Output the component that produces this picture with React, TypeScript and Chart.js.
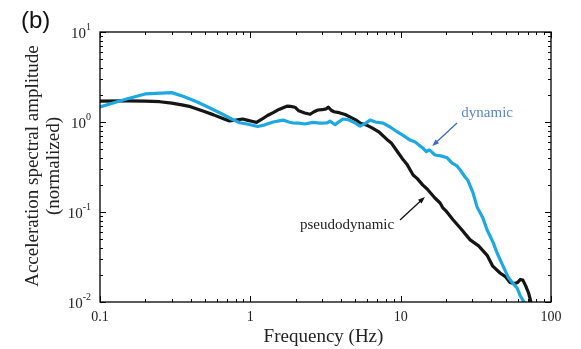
import React, { useEffect, useRef } from "react";
import { Chart, registerables } from "chart.js";

Chart.register(...registerables);

// ---- data (frequency in Hz, normalized amplitude) ----
const pseudoFreq = [0.1, 0.15, 0.2, 0.25, 0.3, 0.35, 0.4, 0.5, 0.57, 0.65, 0.72, 0.8, 0.89, 0.95, 1.02, 1.1, 1.2, 1.3, 1.42, 1.55, 1.75, 1.85, 1.98, 2.1, 2.3, 2.5, 2.65, 2.82, 3.0, 3.2, 3.3, 3.45, 3.6, 3.9, 4.27, 4.7, 5.1, 5.4, 5.9, 6.45, 7.2, 8.1, 8.7, 9.5, 10.4, 11.0, 12.1, 12.9, 14.0, 15.0, 16.9, 18.3, 19.1, 20, 22.3, 25, 29, 33, 37.6, 41, 45.8, 50, 53.4, 57, 60, 62.5, 65, 68, 71, 73, 75];
const pseudoAmp = [1.71, 1.72, 1.71, 1.68, 1.62, 1.55, 1.48, 1.3, 1.2, 1.1, 1.03, 1.05, 1.08, 1.05, 1.02, 0.99, 1.08, 1.18, 1.27, 1.38, 1.5, 1.49, 1.46, 1.33, 1.26, 1.22, 1.3, 1.36, 1.37, 1.4, 1.46, 1.35, 1.3, 1.27, 1.21, 1.12, 1.04, 0.97, 0.93, 0.86, 0.77, 0.64, 0.58, 0.47, 0.38, 0.34, 0.258, 0.235, 0.2, 0.18, 0.143, 0.126, 0.111, 0.103, 0.082, 0.066, 0.049, 0.042, 0.033, 0.025, 0.021, 0.019, 0.0165, 0.016, 0.0165, 0.0178, 0.0175, 0.015, 0.0125, 0.0105, 0.0085];

const dynFreq = [0.1, 0.15, 0.2, 0.3, 0.36, 0.44, 0.53, 0.63, 0.75, 0.85, 0.95, 1.12, 1.25, 1.42, 1.55, 1.65, 1.8, 1.92, 2.1, 2.3, 2.6, 2.9, 3.24, 3.4, 3.66, 3.9, 4.14, 4.5, 5.0, 5.37, 5.8, 6.26, 6.8, 7.64, 8.5, 9.46, 10.5, 11.55, 12.5, 13.3, 14.1, 14.8, 15.5, 16.2, 16.9, 18.5, 20.4, 22, 23.7, 25, 26.8, 28, 30.3, 32.2, 35.3, 37.6, 41.2, 43.8, 47, 51.8, 56, 59.5, 62.3, 67.3];
const dynAmp = [1.47, 1.8, 2.05, 2.12, 1.92, 1.68, 1.45, 1.26, 1.08, 0.98, 0.95, 0.89, 0.93, 1.0, 1.03, 1.05, 1.0, 0.975, 0.97, 0.95, 0.99, 0.97, 0.98, 1.02, 0.93, 1.01, 1.08, 1.06, 0.97, 0.9, 0.96, 1.05, 1.0, 0.97, 0.88, 0.78, 0.7, 0.63, 0.6, 0.55, 0.51, 0.47, 0.49, 0.46, 0.43, 0.42, 0.4, 0.35, 0.325, 0.29, 0.245, 0.225, 0.163, 0.114, 0.085, 0.063, 0.046, 0.035, 0.027, 0.019, 0.016, 0.0143, 0.0118, 0.0095];

const xTickValues = [0.1, 1, 10, 100];
const xTickLabels = ["0.1", "1", "10", "100"];
const yTickValues = [0.01, 0.1, 1, 10];
const yTickExponents = ["-2", "-1", "0", "1"];

const SERIF = '"Liberation Serif", "Times New Roman", serif';

function drawArrow(ctx: CanvasRenderingContext2D, x1: number, y1: number, x2: number, y2: number, color: string) {
  const ang = Math.atan2(y2 - y1, x2 - x1);
  const hl = 7, hw = 2.6;
  ctx.strokeStyle = color;
  ctx.fillStyle = color;
  ctx.lineWidth = 1.3;
  ctx.beginPath();
  ctx.moveTo(x1, y1);
  ctx.lineTo(x2 - Math.cos(ang) * hl * 0.8, y2 - Math.sin(ang) * hl * 0.8);
  ctx.stroke();
  ctx.beginPath();
  ctx.moveTo(x2, y2);
  ctx.lineTo(x2 - Math.cos(ang) * hl - Math.sin(ang) * hw, y2 - Math.sin(ang) * hl + Math.cos(ang) * hw);
  ctx.lineTo(x2 - Math.cos(ang) * hl + Math.sin(ang) * hw, y2 - Math.sin(ang) * hl - Math.cos(ang) * hw);
  ctx.closePath();
  ctx.fill();
}

const framePlugin = {
  id: "frame",
  afterDatasetsDraw(chart: any) {
    const ctx: CanvasRenderingContext2D = chart.ctx;
    const a = chart.chartArea;
    const xs = chart.scales.x;
    const ys = chart.scales.y;
    ctx.save();
    ctx.strokeStyle = "#000";
    ctx.lineWidth = 1.3;
    ctx.strokeRect(a.left, a.top, a.right - a.left, a.bottom - a.top);

    ctx.lineWidth = 1;
    // x ticks
    for (let e = -1; e <= 2; e++) {
      for (let m = 1; m <= 9; m++) {
        if (e === 2 && m > 1) break;
        const v = m * Math.pow(10, e);
        const px = Math.round(xs.getPixelForValue(v)) + 0.5;
        const len = m === 1 ? 6 : 3;
        ctx.beginPath();
        ctx.moveTo(px, a.bottom);
        ctx.lineTo(px, a.bottom - len);
        ctx.moveTo(px, a.top);
        ctx.lineTo(px, a.top + len);
        ctx.stroke();
      }
    }
    // y ticks
    for (let e = -2; e <= 1; e++) {
      for (let m = 1; m <= 9; m++) {
        if (e === 1 && m > 1) break;
        const v = m * Math.pow(10, e);
        const py = Math.round(ys.getPixelForValue(v)) + 0.5;
        const len = m === 1 ? 6 : 3;
        ctx.beginPath();
        ctx.moveTo(a.left, py);
        ctx.lineTo(a.left + len, py);
        ctx.moveTo(a.right, py);
        ctx.lineTo(a.right - len, py);
        ctx.stroke();
      }
    }

    // x tick labels
    ctx.fillStyle = "#222";
    ctx.font = `14px ${SERIF}`;
    ctx.textAlign = "center";
    ctx.textBaseline = "alphabetic";
    xTickValues.forEach((v, i) => {
      ctx.fillText(xTickLabels[i], xs.getPixelForValue(v), a.bottom + 19);
    });

    // y tick labels 10^n
    yTickValues.forEach((v, i) => {
      const py = ys.getPixelForValue(v);
      ctx.font = `10px ${SERIF}`;
      ctx.textAlign = "left";
      const supW = ctx.measureText(yTickExponents[i]).width;
      const right = a.left - 9;
      ctx.textBaseline = "alphabetic";
      ctx.fillText(yTickExponents[i], right - supW, py - 2);
      ctx.font = `15px ${SERIF}`;
      ctx.textAlign = "right";
      ctx.fillText("10", right - supW, py + 6);
    });

    // axis titles
    ctx.fillStyle = "#222";
    ctx.font = `19px ${SERIF}`;
    ctx.textAlign = "center";
    ctx.textBaseline = "alphabetic";
    ctx.fillText("Frequency (Hz)", (a.left + a.right) / 2 - 2, a.bottom + 40);

    ctx.save();
    ctx.translate(0, (a.top + a.bottom) / 2 - 1);
    ctx.rotate(-Math.PI / 2);
    ctx.fillText("Acceleration spectral amplitude", 0, 38);
    ctx.fillText("(normalized)", 0, 59);
    ctx.restore();

    // panel label
    ctx.font = `24px "Liberation Sans", Arial, sans-serif`;
    ctx.textAlign = "left";
    ctx.fillStyle = "#111";
    ctx.fillText("(b)", 21, 28);

    // annotations
    ctx.font = `15px ${SERIF}`;
    ctx.textAlign = "center";
    ctx.textBaseline = "middle";
    ctx.fillStyle = "#5a86c6";
    ctx.fillText("dynamic", xs.getPixelForValue(37.6), ys.getPixelForValue(1.26));
    drawArrow(ctx, xs.getPixelForValue(23.7), ys.getPixelForValue(0.975), xs.getPixelForValue(16.2), ys.getPixelForValue(0.54), "#3f6db5");

    ctx.fillStyle = "#222";
    ctx.fillText("pseudodynamic", xs.getPixelForValue(4.4), ys.getPixelForValue(0.0718));
    drawArrow(ctx, xs.getPixelForValue(9.9), ys.getPixelForValue(0.0815), xs.getPixelForValue(14.5), ys.getPixelForValue(0.147), "#111");

    ctx.restore();
  },
};

export default function App() {
  const ref = useRef<HTMLCanvasElement | null>(null);
  useEffect(() => {
    if (!ref.current) return;
    const chart = new Chart(ref.current, {
      type: "line",
      data: {
        datasets: [
          {
            label: "dynamic",
            data: dynFreq.map((f, i) => ({ x: f, y: dynAmp[i] })),
            borderColor: "#1ea8e2",
            borderWidth: 3.2,
            pointRadius: 0,
            tension: 0,
            fill: false,
            borderJoinStyle: "round",
          },
          {
            label: "pseudodynamic",
            data: pseudoFreq.map((f, i) => ({ x: f, y: pseudoAmp[i] })),
            borderColor: "#151515",
            borderWidth: 3.2,
            pointRadius: 0,
            tension: 0,
            fill: false,
            borderJoinStyle: "round",
          },
        ],
      },
      options: {
        responsive: false,
        maintainAspectRatio: false,
        animation: false,
        layout: { padding: { left: 100, right: 30, top: 32, bottom: 47 } },
        plugins: { legend: { display: false }, tooltip: { enabled: false } },
        scales: {
          x: { type: "logarithmic", min: 0.1, max: 100, display: false },
          y: { type: "logarithmic", min: 0.01, max: 10, display: false },
        },
      },
      plugins: [framePlugin],
    } as any);
    return () => chart.destroy();
  }, []);
  return (
    <div style={{ position: "absolute", left: 0, top: 0, width: 581, height: 349, background: "#fff" }}>
      <canvas ref={ref} width={581} height={349} style={{ display: "block" }} />
    </div>
  );
}
